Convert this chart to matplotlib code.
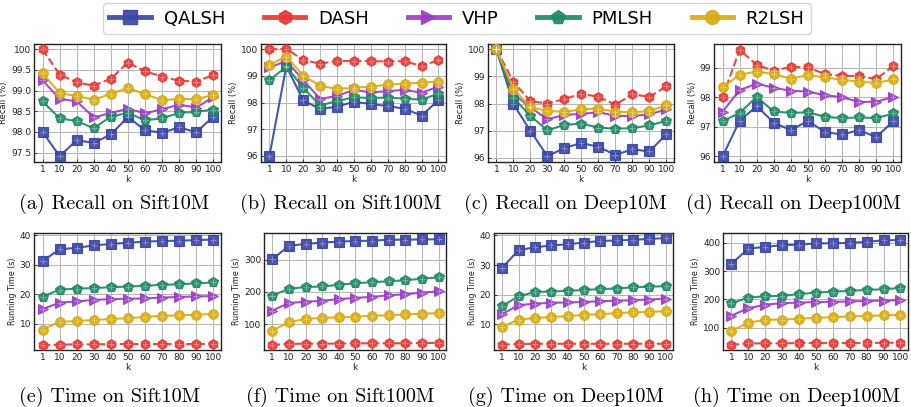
import matplotlib
matplotlib.use("Agg")
import matplotlib.pyplot as plt
from matplotlib.lines import Line2D

k_labels = ["1", "10", "20", "30", "40", "50", "60", "70", "80", "90", "100"]
methods = ["QALSH", "DASH", "VHP", "PMLSH", "R2LSH"]

# Recall on Sift10M
rec_sift10m_qalsh = [98.0, 97.41, 97.8, 97.73, 97.94, 98.36, 98.04, 97.98, 98.11, 97.99, 98.37]
rec_sift10m_dash = [100.0, 99.39, 99.2, 99.12, 99.29, 99.68, 99.47, 99.34, 99.24, 99.22, 99.38]
rec_sift10m_vhp = [99.25, 98.8, 98.74, 98.35, 98.46, 98.56, 98.45, 98.55, 98.66, 98.59, 98.84]
rec_sift10m_pmlsh = [98.74, 98.33, 98.26, 98.09, 98.37, 98.46, 98.28, 98.33, 98.46, 98.49, 98.54]
rec_sift10m_r2lsh = [99.43, 98.94, 98.87, 98.78, 98.92, 99.07, 98.91, 98.77, 98.8, 98.79, 98.9]

# Recall on Sift100M
rec_sift100m_qalsh = [96.0, 99.37, 98.08, 97.76, 97.85, 98.03, 97.95, 97.87, 97.77, 97.51, 98.09]
rec_sift100m_dash = [100.0, 100.02, 99.6, 99.46, 99.57, 99.56, 99.56, 99.54, 99.56, 99.37, 99.6]
rec_sift100m_vhp = [99.32, 99.56, 98.85, 98.14, 98.25, 98.48, 98.38, 98.43, 98.48, 98.37, 98.6]
rec_sift100m_pmlsh = [98.84, 99.35, 98.56, 97.89, 98.06, 98.2, 98.17, 98.19, 98.15, 98.11, 98.34]
rec_sift100m_r2lsh = [99.42, 99.73, 99.01, 98.63, 98.51, 98.56, 98.6, 98.68, 98.71, 98.75, 98.79]

# Recall on Deep10M
rec_deep10m_qalsh = [100.0, 97.97, 96.99, 96.05, 96.36, 96.54, 96.4, 96.1, 96.31, 96.23, 96.86]
rec_deep10m_dash = [100.0, 98.8, 98.09, 98.0, 98.17, 98.36, 98.25, 97.96, 98.34, 98.25, 98.63]
rec_deep10m_vhp = [100.0, 98.35, 97.86, 97.42, 97.58, 97.62, 97.68, 97.54, 97.54, 97.6, 97.78]
rec_deep10m_pmlsh = [100.0, 98.21, 97.54, 97.01, 97.21, 97.26, 97.11, 97.07, 97.09, 97.19, 97.36]
rec_deep10m_r2lsh = [100.0, 98.53, 97.86, 97.73, 97.69, 97.79, 97.81, 97.7, 97.68, 97.72, 97.94]

# Recall on Deep100M
rec_deep100m_qalsh = [96.0, 97.2, 97.7, 97.14, 96.89, 97.2, 96.82, 96.74, 96.89, 96.65, 97.19]
rec_deep100m_dash = [98.0, 99.6, 99.1, 98.89, 99.03, 99.01, 98.78, 98.72, 98.72, 98.61, 99.06]
rec_deep100m_vhp = [97.51, 98.24, 98.46, 98.32, 98.22, 98.19, 98.07, 98.0, 97.84, 97.85, 98.01]
rec_deep100m_pmlsh = [97.19, 97.47, 98.01, 97.52, 97.47, 97.49, 97.34, 97.29, 97.32, 97.29, 97.45]
rec_deep100m_r2lsh = [98.33, 98.76, 98.87, 98.78, 98.63, 98.75, 98.67, 98.59, 98.53, 98.48, 98.6]

# Running time on Sift10M
time_sift10m_qalsh = [31.2, 35.2, 35.7, 36.5, 37.0, 37.4, 37.8, 38.0, 38.1, 38.3, 38.5]
time_sift10m_dash = [2.8, 3.0, 3.1, 3.1, 3.2, 3.2, 3.2, 3.2, 3.2, 3.2, 3.3]
time_sift10m_vhp = [15.0, 17.2, 17.6, 18.1, 18.4, 18.5, 18.6, 18.9, 19.1, 19.3, 19.4]
time_sift10m_pmlsh = [19.2, 21.6, 21.9, 22.1, 22.4, 22.6, 22.9, 23.2, 23.4, 23.7, 24.0]
time_sift10m_r2lsh = [8.1, 10.7, 11.0, 11.3, 11.7, 11.9, 12.4, 12.7, 12.9, 13.1, 13.4]

# Running time on Sift100M
time_sift100m_qalsh = [301, 342, 348, 352, 355, 357, 358, 361, 361, 362, 362]
time_sift100m_dash = [37, 40, 41, 41, 41, 42, 42, 42, 42, 43, 43]
time_sift100m_vhp = [143, 166, 170, 173, 178, 182, 185, 190, 193, 198, 202]
time_sift100m_pmlsh = [189, 210, 215, 217, 222, 227, 230, 233, 236, 241, 245]
time_sift100m_r2lsh = [81, 107, 117, 120, 122, 124, 127, 128, 131, 133, 135]

# Running time on Deep10M
time_deep10m_qalsh = [29.1, 35.0, 36.0, 36.6, 37.0, 37.6, 38.1, 38.3, 38.5, 38.8, 39.1]
time_deep10m_dash = [3.2, 3.4, 3.5, 3.5, 3.5, 3.5, 3.5, 3.5, 3.5, 3.5, 3.5]
time_deep10m_vhp = [13.5, 16.5, 17.0, 17.3, 17.4, 17.6, 17.8, 18.0, 18.2, 18.4, 18.7]
time_deep10m_pmlsh = [16.2, 19.5, 20.9, 21.1, 21.3, 21.6, 21.9, 22.1, 22.5, 22.7, 22.9]
time_deep10m_r2lsh = [9.2, 11.6, 12.2, 12.5, 12.8, 13.2, 13.5, 13.8, 14.1, 14.2, 14.5]

# Running time on Deep100M
time_deep100m_qalsh = [326, 380, 386, 392, 394, 398, 399, 400, 404, 409, 410]
time_deep100m_dash = [40, 45, 45, 45, 46, 46, 46, 46, 46, 47, 47]
time_deep100m_vhp = [143, 169, 182, 187, 189, 191, 192, 193, 195, 196, 198]
time_deep100m_pmlsh = [186, 207, 211, 213, 219, 224, 228, 230, 234, 236, 241]
time_deep100m_r2lsh = [89, 118, 128, 129, 132, 135, 138, 140, 142, 144, 146]

captions = ["(a) Recall on Sift10M", "(b) Recall on Sift100M", "(c) Recall on Deep10M",
            "(d) Recall on Deep100M", "(e) Time on Sift10M", "(f) Time on Sift100M",
            "(g) Time on Deep10M", "(h) Time on Deep100M"]

panels = [
    [rec_sift10m_qalsh, rec_sift10m_dash, rec_sift10m_vhp, rec_sift10m_pmlsh, rec_sift10m_r2lsh],
    [rec_sift100m_qalsh, rec_sift100m_dash, rec_sift100m_vhp, rec_sift100m_pmlsh, rec_sift100m_r2lsh],
    [rec_deep10m_qalsh, rec_deep10m_dash, rec_deep10m_vhp, rec_deep10m_pmlsh, rec_deep10m_r2lsh],
    [rec_deep100m_qalsh, rec_deep100m_dash, rec_deep100m_vhp, rec_deep100m_pmlsh, rec_deep100m_r2lsh],
    [time_sift10m_qalsh, time_sift10m_dash, time_sift10m_vhp, time_sift10m_pmlsh, time_sift10m_r2lsh],
    [time_sift100m_qalsh, time_sift100m_dash, time_sift100m_vhp, time_sift100m_pmlsh, time_sift100m_r2lsh],
    [time_deep10m_qalsh, time_deep10m_dash, time_deep10m_vhp, time_deep10m_pmlsh, time_deep10m_r2lsh],
    [time_deep100m_qalsh, time_deep100m_dash, time_deep100m_vhp, time_deep100m_pmlsh, time_deep100m_r2lsh],
]

colors = ["#3a47a6", "#e53935", "#9b3fc4", "#1f8a66", "#d9ad14"]
markers = ["s", "h", ">", "p", "o"]
styles = ["-", "--", "-", "-", "-"]

W, H = 912, 407
fig = plt.figure(figsize=(W / 100, H / 100), dpi=100)

# pixel boxes: left, right, top, bottom
boxes = [
    (34, 221, 44, 162), (261, 446, 44, 162), (488, 674, 44, 162), (714, 901, 44, 162),
    (34, 221, 233, 350), (264, 446, 233, 350), (494, 673, 233, 350), (723, 908, 233, 350),
]
ylims = [(97.27, 100.13), (95.77, 100.2), (95.84, 100.2), (95.81, 99.8),
         (1.2, 40.7), (21.4, 381.6), (1.4, 40.8), (21.5, 435)]
yticks = [[97.5, 98.0, 98.5, 99.0, 99.5, 100], [96, 97, 98, 99, 100], [96, 97, 98, 99, 100],
          [96, 97, 98, 99], [10, 20, 30, 40], [100, 200, 300], [10, 20, 30, 40],
          [100, 200, 300, 400]]
ytlabels = [["97.5", "98.0", "98.5", "99.0", "99.5", "100"], None, None, None, None, None, None, None]
cap_x = [114, 341, 565, 793, 110, 340, 566, 796]
cap_y = [204, 204, 204, 204, 397, 397, 397, 397]

x = list(range(len(k_labels)))
for i, (l, r, t, b) in enumerate(boxes):
    ax = fig.add_axes([l / W, 1 - b / H, (r - l) / W, (b - t) / H])
    for j, series in enumerate(panels[i]):
        ax.plot(x, series, color=colors[j], ls=styles[j], lw=1.5, marker=markers[j],
                ms=7, mec=colors[j], mfc=colors[j], mew=0.8, alpha=0.92, zorder=3)
        ax.plot(x, series, ls="none", marker="+", ms=4.5, mew=0.8,
                color="white", alpha=0.35, zorder=4)
    ax.set_xlim(-0.5, 10.45)
    ax.set_ylim(*ylims[i])
    ax.set_xticks(x)
    ax.set_xticklabels(k_labels)
    ax.set_yticks(yticks[i])
    if ytlabels[i] is not None:
        ax.set_yticklabels(ytlabels[i])
    ax.grid(True, color="#b8b8b8", lw=0.8, zorder=0)
    ax.set_axisbelow(True)
    ax.tick_params(labelsize=6.5, direction="in", length=2, width=0.6, pad=2, colors="#222222")
    for s in ax.spines.values():
        s.set_color("#222222")
        s.set_linewidth(1.0)
    ax.set_xlabel("k", fontsize=6.5, labelpad=1, color="#222222")
    if i < 4:
        ax.set_ylabel("Recall (%)", fontsize=6.0, labelpad=2, color="#222222")
    else:
        ax.set_ylabel("Running Time (s)", fontsize=5.8, labelpad=2, color="#222222")
    fig.text(cap_x[i] / W, 1 - cap_y[i] / H, captions[i], fontfamily="cmr10",
             fontsize=14.5, ha="center", va="center")

handles = [Line2D([], [], color=colors[j], ls="-", lw=3.5, marker=markers[j], ms=10,
                  mfc=colors[j], mec=colors[j], alpha=0.92) for j in range(5)]
fig.legend(handles, methods, loc="center", bbox_to_anchor=(457 / W, 1 - 18.5 / H),
           ncol=5, fontsize=13, frameon=True, fancybox=True, edgecolor="#cccccc",
           handlelength=2.3, columnspacing=2.15, handletextpad=0.7, borderpad=0.35)

fig.savefig("out.png", dpi=100)
